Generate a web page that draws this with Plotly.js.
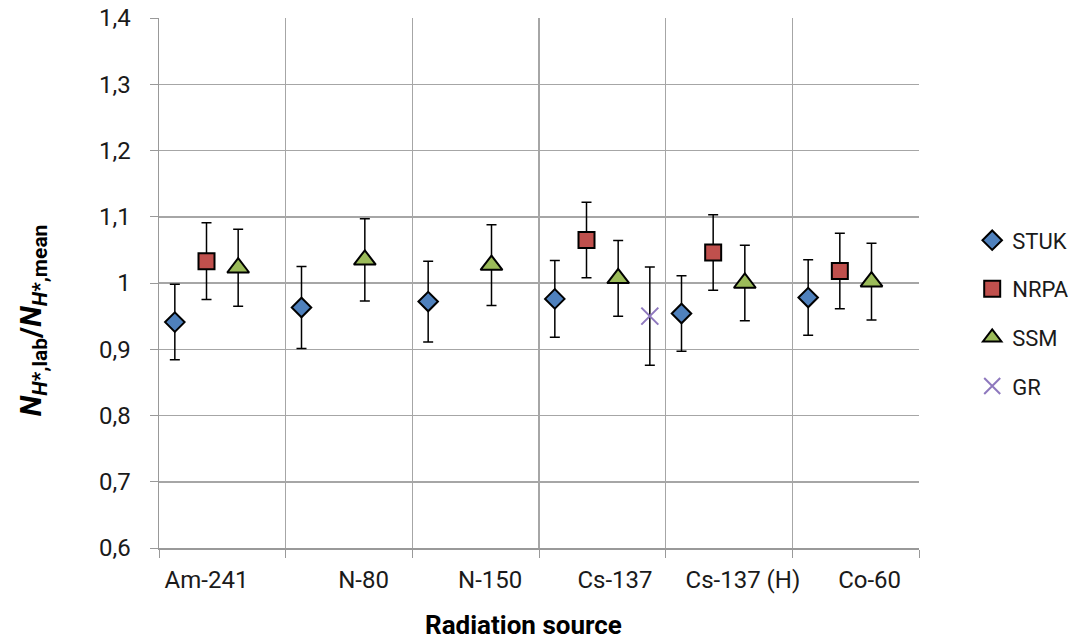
<!DOCTYPE html>
<html>
<head>
<meta charset="utf-8">
<script src="https://cdn.plot.ly/plotly-3.0.1.min.js"></script>
<style>
html,body{margin:0;padding:0;background:#fff;}
#chart{width:1074px;height:644px;}
</style>
</head>
<body>
<div id="chart"></div>
<script>
// ---- data ----
var categories = ['Am-241', 'N-80', 'N-150', 'Cs-137', 'Cs-137 (H)', 'Co-60'];
var seriesNames = ['STUK', 'NRPA', 'SSM', 'GR'];
var stukValues = [0.941, 0.963, 0.972, 0.976, 0.954, 0.978];
var stukErrors = [0.057, 0.062, 0.061, 0.058, 0.057, 0.057];
var nrpaValues = [1.033, null, null, 1.065, 1.046, 1.018];
var nrpaErrors = [0.058, null, null, 0.057, 0.057, 0.057];
var ssmValues  = [1.023, 1.035, 1.027, 1.007, 1.000, 1.002];
var ssmErrors  = [0.058, 0.062, 0.061, 0.057, 0.057, 0.058];
var grValues   = [null, null, null, 0.950, null, null];
var grErrors   = [null, null, null, 0.074, null, null];

// ---- layout helpers ----
var FONT = 'Roboto, "Open Sans", sans-serif';
var nSlots = 4;
function slotX(k) {
  return categories.map(function (c, i) { return i + (k + 0.5) / nSlots; });
}
// label centre positions within each category band (as drawn in the reference)
var labelPos = [0.375, 1.615, 2.615, 3.6, 4.61, 5.61];

function errBar(arr) {
  return {type: 'data', array: arr.map(function (v) { return v == null ? 0 : v; }),
          visible: true, color: '#000', thickness: 1.5, width: 5};
}

var traces = [
  {name: seriesNames[0], x: slotX(0), y: stukValues, error_y: errBar(stukErrors),
   type: 'scatter', mode: 'markers', legendgroup: 'a',
   marker: {symbol: 'diamond', size: 15, color: '#4F81BD', line: {color: '#000', width: 2}}},
  {name: seriesNames[1], x: slotX(1), y: nrpaValues, error_y: errBar(nrpaErrors),
   type: 'scatter', mode: 'markers', legendgroup: 'b',
   marker: {symbol: 'square', size: 16, color: '#C0504D', line: {color: '#000', width: 2}}},
  {name: seriesNames[2], x: slotX(2), y: ssmValues, error_y: errBar(ssmErrors),
   type: 'scatter', mode: 'markers', legendgroup: 'c',
   marker: {symbol: 'triangle-up', size: 19, color: '#9BBB59', line: {color: '#000', width: 2}}},
  {name: seriesNames[3], x: slotX(3), y: grValues, error_y: errBar(grErrors),
   type: 'scatter', mode: 'markers', legendgroup: 'd',
   marker: {symbol: 'x-thin', size: 17, color: '#8E78BE', line: {color: '#8E78BE', width: 2}}},
  // invisible helper trace to carry category labels on the overlay axis
  {x: labelPos, y: labelPos.map(function () { return null; }), xaxis: 'x2', yaxis: 'y',
   type: 'scatter', mode: 'markers', showlegend: false, hoverinfo: 'skip'}
];

var gridColor = '#a6a6a6';
var layout = {
  width: 1074, height: 644,
  margin: {l: 159, r: 155, t: 18, b: 96, autoexpand: false},
  paper_bgcolor: '#fff', plot_bgcolor: '#fff',
  separators: ', ',
  font: {family: FONT, size: 24, color: '#1a1a1a'},
  showlegend: true,
  legend: {x: 1.07, xanchor: 'left', y: 0.62, yanchor: 'top',
           font: {family: FONT, size: 22, color: '#1a1a1a'},
           traceorder: 'grouped', tracegroupgap: 17, bgcolor: 'rgba(0,0,0,0)'},
  xaxis: {range: [0, 6], tickmode: 'linear', tick0: 0, dtick: 1,
          showticklabels: false, ticks: 'outside', ticklen: 8, tickcolor: '#999',
          showgrid: true, gridcolor: gridColor, gridwidth: 1.5,
          showline: true, linecolor: '#999', linewidth: 1.5, zeroline: false},
  xaxis2: {range: [0, 6], overlaying: 'x', anchor: 'y', side: 'bottom',
           tickmode: 'array', tickvals: labelPos, ticktext: categories,
           ticks: '', showgrid: false, zeroline: false, showline: false,
           ticklabelstandoff: 15,
           tickfont: {family: FONT, size: 24, color: '#1a1a1a'}},
  yaxis: {range: [0.6, 1.4], tick0: 0.6, dtick: 0.1, tickmode: 'linear',
          ticks: 'outside', ticklen: 8, tickcolor: '#999',
          showgrid: true, gridcolor: gridColor, gridwidth: 1.5,
          showline: true, linecolor: '#999', linewidth: 1.5, zeroline: false,
          ticklabelstandoff: 14,
          tickfont: {family: FONT, size: 24, color: '#1a1a1a'}},
  annotations: [
    {text: '<b><i>N</i><sub><i>H</i>*,lab</sub>/<i>N</i><sub><i>H</i>*,mean</sub></b>',
     xref: 'paper', yref: 'paper', x: -0.167, y: 0.43, xanchor: 'center', yanchor: 'middle',
     textangle: -90, showarrow: false, font: {family: FONT, size: 30, color: '#000'}},
    {text: '<b>Radiation source</b>',
     xref: 'paper', yref: 'paper', x: 0.48, y: -0.145, xanchor: 'center', yanchor: 'middle',
     showarrow: false, font: {family: FONT, size: 26, color: '#000'}}
  ]
};

Plotly.newPlot('chart', traces, layout, {displayModeBar: false, staticPlot: true});
</script>
</body>
</html>
